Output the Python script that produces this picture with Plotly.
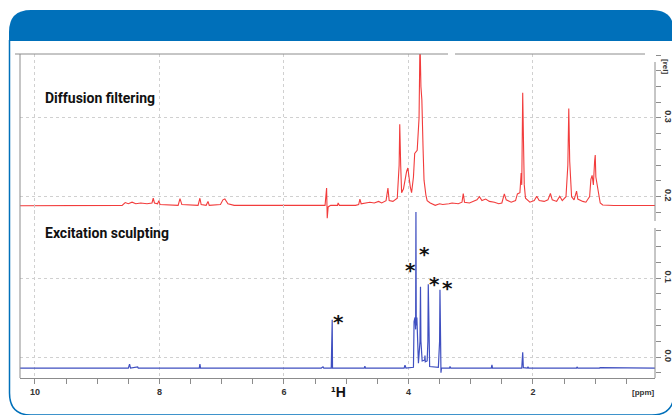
import plotly.graph_objects as go

W, H = 672, 415

# ---------------- data ----------------
# Diffusion-filtered spectrum (red), chemical shift [ppm] and intensity [rel]
red_ppm = [10.24, 9.0, 8.60, 8.55, 8.50, 8.44, 8.38, 8.30, 8.20, 8.12, 8.10, 8.08, 8.03, 8.01, 7.99,
           7.70, 7.67, 7.64, 7.38, 7.35, 7.33, 7.25, 7.22, 7.20, 7.02, 6.98, 6.95, 6.90, 6.80,
           5.50, 5.34, 5.315, 5.305, 5.29, 5.25, 5.14, 5.13, 5.11, 4.85, 4.80, 4.78, 4.76, 4.70,
           4.62, 4.55, 4.48, 4.43, 4.36, 4.33, 4.31, 4.25, 4.18, 4.15, 4.14, 4.125, 4.11, 4.08,
           4.05, 4.03, 4.01, 3.99, 3.97, 3.95, 3.92, 3.90, 3.86, 3.83, 3.815, 3.80, 3.785, 3.765,
           3.75, 3.72, 3.70, 3.65, 3.57, 3.50, 3.45, 3.35, 3.30, 3.20, 3.14, 3.12, 3.10, 3.02,
           2.96, 2.90, 2.86, 2.82, 2.76, 2.70, 2.62, 2.55, 2.50, 2.46, 2.43, 2.35, 2.28, 2.25,
           2.21, 2.19, 2.18, 2.165, 2.15, 2.14, 2.12, 2.05, 1.98, 1.94, 1.90, 1.82, 1.76, 1.72,
           1.69, 1.62, 1.57, 1.53, 1.47, 1.44, 1.425, 1.41, 1.38, 1.34, 1.30, 1.28, 1.20, 1.15,
           1.09, 1.07, 1.05, 1.03, 1.01, 1.00, 0.99, 0.97, 0.95, 0.92, 0.88, 0.70, 0.40, 0.04]
red_int = [0.1885, 0.1885, 0.189, 0.1925, 0.191, 0.193, 0.191, 0.192, 0.191, 0.192, 0.198, 0.192, 0.191, 0.195, 0.190,
           0.189, 0.1975, 0.190, 0.189, 0.198, 0.190, 0.189, 0.194, 0.189, 0.190, 0.196, 0.197, 0.191, 0.189,
           0.189, 0.189, 0.211, 0.1725, 0.187, 0.189, 0.189, 0.192, 0.189, 0.189, 0.190, 0.197, 0.191, 0.192,
           0.193, 0.192, 0.194, 0.192, 0.195, 0.211, 0.195, 0.194, 0.198, 0.240, 0.292, 0.240, 0.205, 0.210,
           0.225, 0.232, 0.2365, 0.222, 0.212, 0.205, 0.225, 0.255, 0.259, 0.300, 0.400, 0.340, 0.323, 0.260,
           0.221, 0.202, 0.195, 0.192, 0.189, 0.191, 0.190, 0.191, 0.192, 0.191, 0.193, 0.204, 0.193, 0.192,
           0.194, 0.196, 0.200, 0.195, 0.197, 0.194, 0.193, 0.191, 0.192, 0.2035, 0.196, 0.193, 0.195, 0.2035,
           0.205, 0.230, 0.215, 0.332, 0.259, 0.215, 0.198, 0.193, 0.195, 0.2005, 0.195, 0.194, 0.196, 0.204,
           0.196, 0.194, 0.2005, 0.195, 0.200, 0.240, 0.312, 0.245, 0.200, 0.196, 0.207, 0.197, 0.194, 0.193,
           0.200, 0.222, 0.227, 0.215, 0.245, 0.253, 0.225, 0.215, 0.203, 0.192, 0.1895, 0.1888, 0.1888, 0.1888]

# Excitation-sculpting spectrum (blue)
blue_ppm = [10.24, 8.50, 8.48, 8.465, 8.35, 8.34, 7.36, 7.35, 7.34, 5.40, 5.373, 5.36, 5.24, 5.235, 5.225, 5.22,
            4.71, 4.70, 4.69, 4.07, 4.056, 4.04, 3.92, 3.91, 3.895, 3.885, 3.880, 3.875, 3.865, 3.855, 3.84,
            3.815, 3.807, 3.80, 3.78, 3.74, 3.735, 3.73, 3.70, 3.688, 3.682, 3.675, 3.66, 3.52, 3.50, 3.494,
            3.488, 3.484, 3.478, 3.47, 3.34, 3.333, 3.32, 2.67, 2.659, 2.65, 2.18, 2.165, 2.155, 2.09, 2.08,
            2.07, 1.30, 1.293, 1.28, 0.93, 0.924, 0.04]
blue_int = [-0.014, -0.014, -0.009, -0.014, -0.0125, -0.014, -0.014, -0.009, -0.014, -0.014, -0.0125, -0.014,
            -0.014, 0.046, 0.047, -0.014, -0.014, -0.0115, -0.014, -0.014, -0.0105, -0.014, -0.013, 0.045, 0.050,
            0.035, 0.1835, 0.040, 0.050, 0.020, -0.008, 0.020, 0.089, 0.020, -0.005, -0.004, 0.002, -0.006,
            -0.005, 0.020, 0.092, 0.020, -0.012, -0.013, 0.020, 0.085, 0.030, 0.072, -0.020, -0.014, -0.014,
            -0.012, -0.014, -0.014, -0.010, -0.014, -0.014, 0.006, -0.0135, -0.014, -0.0125, -0.014, -0.014,
            -0.0125, -0.014, -0.014, -0.0135, -0.014]

# Asterisk markers on the excitation-sculpting peaks
star_ppm = [5.116, 3.960, 3.735, 3.574, 3.381]
star_int = [0.0506, 0.1165, 0.1367, 0.0987, 0.0937]

panel_titles = ["Diffusion filtering", "Excitation sculpting"]
red_tickvals = [0.2, 0.3]
red_ticktext = ["0.2", "0.3"]
blue_tickvals = [0.0, 0.1]
blue_ticktext = ["0.0", "0.1"]

# ---------------- helpers ----------------
def X(px):
    return px / W

def Y(py):
    return 1 - py / H

BLUE = "#0070BA"
GRAY = "#8c8c8c"
GRID = "#d0d0d0"
TICKFONT = dict(family="Liberation Sans", size=9, color="#333333", weight="bold")

fig = go.Figure()
fig.add_trace(go.Scatter(x=red_ppm, y=red_int, mode="lines", xaxis="x", yaxis="y",
                         line=dict(color="#f23c3c", width=1.1), hoverinfo="skip", showlegend=False))
fig.add_trace(go.Scatter(x=blue_ppm, y=blue_int, mode="lines", xaxis="x", yaxis="y2",
                         line=dict(color="#3f4fc0", width=1.2), hoverinfo="skip", showlegend=False))

minor_red = [0.18, 0.22, 0.24, 0.26, 0.28, 0.32, 0.34, 0.36, 0.38]
minor_blue = [-0.02, 0.02, 0.04, 0.06, 0.08, 0.12, 0.14, 0.16]

yax_common = dict(side="right", anchor="x", ticks="outside", ticklen=5, tickcolor=GRAY,
                  tickangle=90, tickfont=dict(family="Liberation Sans", size=9, color="#333333", weight="bold"),
                  showline=False, zeroline=False, showgrid=True, gridcolor=GRID, griddash="dot",
                  gridwidth=1, tickmode="array")

fig.update_layout(
    width=W, height=H,
    margin=dict(l=0, r=0, t=0, b=0),
    paper_bgcolor="white", plot_bgcolor="rgba(0,0,0,0)",
    showlegend=False,
    xaxis=dict(domain=[X(20), X(655)], range=[10.24, 0.04], anchor="y2",
               tickmode="linear", tick0=0, dtick=2, ticks="outside", ticklen=5, tickcolor=GRAY,
               tickfont=TICKFONT, showline=True, linecolor=GRAY, linewidth=1,
               showgrid=True, gridcolor=GRID, griddash="dot", gridwidth=1, zeroline=False,
               minor=dict(tick0=0, dtick=0.5, ticks="outside", ticklen=5, tickcolor=GRAY, showgrid=False)),
    yaxis=dict(domain=[Y(221), Y(54)], range=[0.1691, 0.3813],
               tickvals=red_tickvals, ticktext=red_ticktext,
               minor=dict(tickvals=minor_red, ticks="outside", ticklen=5, tickcolor=GRAY, showgrid=False),
               **yax_common),
    yaxis2=dict(domain=[Y(378), Y(205)], range=[-0.02658, 0.1924],
                tickvals=blue_tickvals, ticktext=blue_ticktext,
                minor=dict(tickvals=minor_blue, ticks="outside", ticklen=5, tickcolor=GRAY, showgrid=False),
                **yax_common),
)

shapes = []
# header bar
shapes.append(dict(type="path", xref="paper", yref="paper", layer="above",
                   path=(f"M {X(9)},{Y(41)} L {X(9)},{Y(32)} Q {X(9)},{Y(10)} {X(31)},{Y(10)} "
                         f"L {X(652)},{Y(10)} Q {X(674)},{Y(10)} {X(674)},{Y(32)} L {X(674)},{Y(41)} Z"),
                   fillcolor=BLUE, line=dict(width=0)))
# rounded frame outline
shapes.append(dict(type="path", xref="paper", yref="paper", layer="above",
                   path=(f"M {X(9.5)},{Y(40)} L {X(9.5)},{Y(393)} Q {X(9.5)},{Y(415)} {X(31)},{Y(415)} "
                         f"L {X(652)},{Y(415)} Q {X(674)},{Y(415)} {X(674)},{Y(393)} L {X(674)},{Y(40)}"),
                   line=dict(color=BLUE, width=1.5)))
# frame lines of the spectrum window
for (x0, y0, x1, y1) in [(20, 54, 20, 378), (15, 54, 448, 54), (455, 54, 645, 54),
                         (655, 62, 655, 221), (655, 228, 655, 378)]:
    shapes.append(dict(type="line", xref="paper", yref="paper", x0=X(x0), y0=Y(y0), x1=X(x1), y1=Y(y1),
                       line=dict(color=GRAY, width=1)))
fig.update_layout(shapes=shapes)

TITLEFONT = dict(family="Roboto", size=14, color="#111111", weight="bold")
ann = []
ann.append(dict(text=panel_titles[0], x=X(43), y=Y(98), xanchor="left", yanchor="middle", font=TITLEFONT))
ann.append(dict(text=panel_titles[1], x=X(43), y=Y(233), xanchor="left", yanchor="middle", font=TITLEFONT))
ann.append(dict(text="[ppm]", x=X(643), y=Y(392), xanchor="center", yanchor="middle",
                font=dict(family="Liberation Sans", size=8, color="#333333", weight="bold")))
ann.append(dict(text="[rel]", x=X(666), y=Y(66), xanchor="center", yanchor="middle", textangle=90,
                font=dict(family="Liberation Sans", size=8, color="#333333", weight="bold")))
ann.append(dict(text="\u00b9H", x=X(338), y=Y(392), xanchor="center", yanchor="middle",
                font=dict(family="Liberation Sans", size=14, color="#111111", weight="bold")))
for a in ann:
    a.update(xref="paper", yref="paper", showarrow=False)
for sx, sy in zip(star_ppm, star_int):
    ann.append(dict(text="*", x=sx, y=sy, xref="x", yref="y2", showarrow=False, yshift=-5,
                    xanchor="center", yanchor="middle",
                    font=dict(family="DejaVu Sans", size=20, color="#111111", weight="bold")))
fig.update_layout(annotations=ann)

fig.write_html("out.html")
